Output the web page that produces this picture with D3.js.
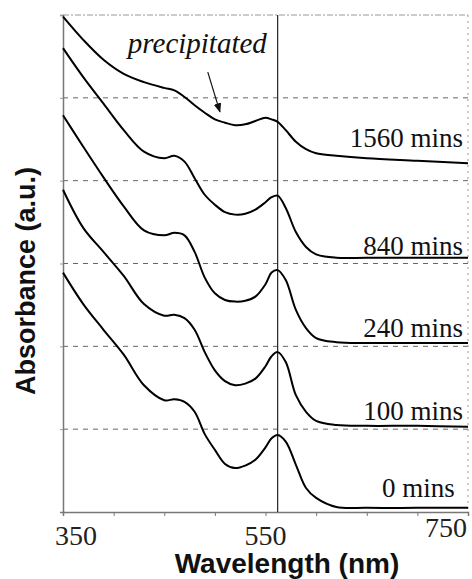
<!DOCTYPE html>
<html>
<head>
<meta charset="utf-8">
<style>
body { margin: 0; background: #fff; }
</style>
</head>
<body>
<svg id="chart" width="472" height="579"></svg>

<script src="https://cdn.jsdelivr.net/npm/d3@7"></script>
<script>

// wavelengths (nm) the curves were read at
var wavelengths = [350, 370, 390, 410, 430, 450, 460, 470, 480, 490, 500, 510, 520,
                   530, 540, 550, 556, 562, 570, 580, 590, 600, 620, 650, 700, 750]

// absorbance (offset, a.u.) for each time
var abs0    = [2.89, 2.51, 2.20, 1.90, 1.53, 1.35, 1.36, 1.33, 1.21, 0.94, 0.75, 0.58, 0.53,
               0.56, 0.63, 0.78, 0.89, 0.93, 0.85, 0.57, 0.29, 0.17, 0.06, 0.05, 0.05, 0.05]
var abs100  = [3.89, 3.43, 3.14, 2.85, 2.51, 2.37, 2.38, 2.34, 2.20, 1.93, 1.71, 1.58, 1.53,
               1.55, 1.61, 1.76, 1.88, 1.93, 1.81, 1.41, 1.21, 1.10, 1.05, 1.04, 1.04, 1.03]
var abs240  = [4.79, 4.41, 4.04, 3.69, 3.40, 3.34, 3.37, 3.34, 3.14, 2.83, 2.64, 2.56, 2.54,
               2.55, 2.60, 2.75, 2.89, 2.92, 2.80, 2.44, 2.22, 2.10, 2.05, 2.04, 2.04, 2.04]
var abs840  = [5.60, 5.25, 4.93, 4.61, 4.35, 4.27, 4.30, 4.23, 4.03, 3.83, 3.71, 3.62, 3.59,
               3.60, 3.65, 3.74, 3.80, 3.82, 3.67, 3.38, 3.20, 3.11, 3.07, 3.07, 3.07, 3.07]
var abs1560 = [5.98, 5.70, 5.46, 5.29, 5.19, 5.12, 5.09, 5.01, 4.91, 4.82, 4.74, 4.70, 4.67,
               4.68, 4.72, 4.76, 4.74, 4.71, 4.61, 4.47, 4.38, 4.33, 4.30, 4.27, 4.24, 4.21]

var series = [abs0, abs100, abs240, abs840, abs1560]
var seriesLabels = ["0 mins", "100 mins", "240 mins", "840 mins", "1560 mins"]
var labelLevels = [0.18, 1.11, 2.11, 3.10, 4.41]

var xTicks = [350, 400, 450, 500, 550, 600, 650, 700, 750]
var xTickLabels = [350, 550, 750]
var yGrid = [1, 2, 3, 4, 5, 6]
var peakLine = 562

var margin = {top: 15, left: 63, right: 4, bottom: 67}
var W = 472, H = 579
var w = W - margin.left - margin.right
var h = H - margin.top - margin.bottom

var svg = d3.select("#chart")
var g = svg.append("g").attr("transform", "translate(" + margin.left + "," + margin.top + ")")

var x = d3.scaleLinear().domain([350, 750]).range([0, w])
var y = d3.scaleLinear().domain([0, 6]).range([h, 0])

// dashed grid
g.selectAll(".grid").data(yGrid).enter().append("line")
  .attr("x1", 0).attr("x2", w)
  .attr("y1", function(d){ return y(d) })
  .attr("y2", function(d){ return y(d) })
  .attr("stroke", function(d){ return d == 6 ? "#999" : "#666" })
  .attr("stroke-width", 1)
  .attr("stroke-dasharray", function(d){ return d == 6 ? "6,2,2,2" : "5,5" })

// right border, dotted
g.append("line")
  .attr("x1", w).attr("x2", w).attr("y1", 0).attr("y2", h)
  .attr("stroke", "#999").attr("stroke-dasharray", "2,4")

// x axis
var xAxis = g.append("g").attr("transform", "translate(0," + h + ")")
  .call(d3.axisBottom(x).tickValues(xTicks).tickSize(4).tickFormat(""))
xAxis.select(".domain").attr("stroke", "#777").attr("stroke-width", 1.5)
xAxis.selectAll(".tick line").attr("stroke", "#777")

g.selectAll(".xlab").data(xTickLabels).enter().append("text")
  .attr("x", function(d, i){ return x(d) + (i == 0 ? -8 : i == 2 ? -1 : 0) })
  .attr("y", function(d, i){ return h + (i == 2 ? 25 : 33) })
  .attr("text-anchor", function(d, i){ return i == 0 ? "start" : i == 2 ? "end" : "middle" })
  .style("font-family", "'Liberation Serif', 'Times New Roman', serif")
  .style("font-size", "28px")
  .attr("fill", "#222")
  .text(function(d){ return d })

// y axis
var yAxis = g.append("g")
  .call(d3.axisLeft(y).tickValues(yGrid).tickSize(3).tickFormat(""))
yAxis.select(".domain").attr("stroke", "#777").attr("stroke-width", 1.5)
yAxis.selectAll(".tick line").attr("stroke", "#999")

// vertical peak marker
g.append("line")
  .attr("x1", x(peakLine)).attr("x2", x(peakLine))
  .attr("y1", 0).attr("y2", h)
  .attr("stroke", "#222").attr("stroke-width", 1.2)

// spectra
var line = d3.line()
  .x(function(d, i){ return x(wavelengths[i]) })
  .y(function(d){ return y(d) })
  .curve(d3.curveCatmullRom.alpha(0.5))

g.selectAll(".spec").data(series).enter().append("path")
  .attr("d", line)
  .attr("fill", "none")
  .attr("stroke", "#000")
  .attr("stroke-width", 2)

// labels
g.selectAll(".slab").data(seriesLabels).enter().append("text")
  .attr("x", function(d, i){ return i == 0 ? x(737) : x(745) })
  .attr("y", function(d, i){ return y(labelLevels[i]) })
  .attr("text-anchor", "end")
  .style("font-family", "'Liberation Serif', 'Times New Roman', serif")
  .style("font-size", "27px")
  .attr("fill", "#111")
  .text(function(d){ return d })

// precipitated annotation
g.append("text")
  .attr("x", x(414)).attr("y", y(5.54))
  .style("font-family", "'Liberation Serif', 'Times New Roman', serif")
  .style("font-style", "italic")
  .style("font-size", "29px")
  .attr("fill", "#111")
  .text("precipitated")

var defs = svg.append("defs")
defs.append("marker").attr("id", "arr")
  .attr("viewBox", "0 0 10 10").attr("refX", 9).attr("refY", 5)
  .attr("markerWidth", 8).attr("markerHeight", 8).attr("orient", "auto")
  .append("path").attr("d", "M0,1 L10,5 L0,9 z").attr("fill", "#111")

g.append("line")
  .attr("x1", x(493)).attr("y1", y(5.31))
  .attr("x2", x(505)).attr("y2", y(4.83))
  .attr("stroke", "#111").attr("stroke-width", 1.2)
  .attr("marker-end", "url(#arr)")

// axis titles
svg.append("text")
  .attr("transform", "translate(35,281) rotate(-90)")
  .attr("text-anchor", "middle")
  .style("font-family", "'Liberation Sans', Arial, sans-serif")
  .style("font-weight", "bold")
  .style("font-size", "27px")
  .attr("fill", "#111")
  .text("Absorbance (a.u.)")

svg.append("text")
  .attr("x", 287).attr("y", 573)
  .attr("text-anchor", "middle")
  .style("font-family", "'Liberation Sans', Arial, sans-serif")
  .style("font-weight", "bold")
  .style("font-size", "28px")
  .attr("fill", "#111")
  .text("Wavelength (nm)")

</script>
</body>
</html>
